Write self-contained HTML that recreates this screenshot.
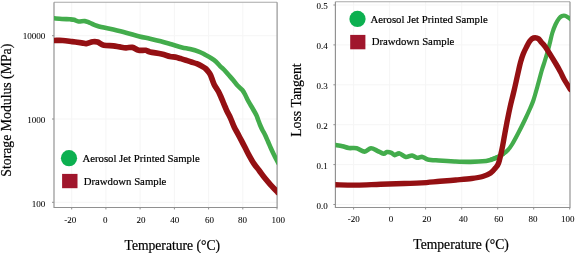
<!DOCTYPE html>
<html><head><meta charset="utf-8"><style>
html,body{margin:0;padding:0;background:#fff;width:575px;height:253px;overflow:hidden;}
svg{display:block;will-change:transform}
</style></head><body>
<svg width="575" height="253" viewBox="0 0 575 253" font-family='"Liberation Serif", serif'><style>text{stroke:#000;stroke-width:0.2px;fill:#000} text.t{stroke-width:0.05px}</style>
<rect width="575" height="253" fill="#fff"/>
<defs><clipPath id="cl"><rect x="54.0" y="2.2" width="223.1" height="205.2"/></clipPath><clipPath id="cr"><rect x="335.4" y="1.7" width="234.6" height="205.8"/></clipPath></defs>
<line x1="71.7" y1="2.2" x2="71.7" y2="207.45" stroke="#f5f5f5" stroke-width="1"/>
<line x1="105.9" y1="2.2" x2="105.9" y2="207.45" stroke="#f5f5f5" stroke-width="1"/>
<line x1="140.1" y1="2.2" x2="140.1" y2="207.45" stroke="#f5f5f5" stroke-width="1"/>
<line x1="174.4" y1="2.2" x2="174.4" y2="207.45" stroke="#f5f5f5" stroke-width="1"/>
<line x1="208.6" y1="2.2" x2="208.6" y2="207.45" stroke="#f5f5f5" stroke-width="1"/>
<line x1="242.8" y1="2.2" x2="242.8" y2="207.45" stroke="#f5f5f5" stroke-width="1"/>
<line x1="54.0" y1="202.3" x2="277.1" y2="202.3" stroke="#f5f5f5" stroke-width="1"/>
<line x1="54.0" y1="119.0" x2="277.1" y2="119.0" stroke="#f5f5f5" stroke-width="1"/>
<line x1="54.0" y1="35.7" x2="277.1" y2="35.7" stroke="#f5f5f5" stroke-width="1"/>
<line x1="71.7" y1="207.45" x2="71.7" y2="209.45" stroke="#909090" stroke-width="1"/>
<line x1="105.9" y1="207.45" x2="105.9" y2="209.45" stroke="#909090" stroke-width="1"/>
<line x1="140.1" y1="207.45" x2="140.1" y2="209.45" stroke="#909090" stroke-width="1"/>
<line x1="174.4" y1="207.45" x2="174.4" y2="209.45" stroke="#909090" stroke-width="1"/>
<line x1="208.6" y1="207.45" x2="208.6" y2="209.45" stroke="#909090" stroke-width="1"/>
<line x1="242.8" y1="207.45" x2="242.8" y2="209.45" stroke="#909090" stroke-width="1"/>
<line x1="277.0" y1="207.45" x2="277.0" y2="209.45" stroke="#909090" stroke-width="1"/>
<line x1="52.0" y1="202.3" x2="54.0" y2="202.3" stroke="#909090" stroke-width="1"/>
<line x1="52.0" y1="119.0" x2="54.0" y2="119.0" stroke="#909090" stroke-width="1"/>
<line x1="52.0" y1="35.7" x2="54.0" y2="35.7" stroke="#909090" stroke-width="1"/>
<path d="M54.0,2.2 H277.1" stroke="#a8a8a8" stroke-width="1.15" fill="none"/><path d="M54.0,2.2 V207.45 H277.1 V2.2" stroke="#909090" stroke-width="1.15" fill="none" stroke-linejoin="miter"/>
<g clip-path="url(#cl)" fill="none" stroke-width="4.6" stroke-linejoin="round" stroke-linecap="round">
<path d="M54.50,18.30 C55.75,18.42 59.42,18.83 62.00,19.00 C64.58,19.17 68.00,19.17 70.00,19.30 C72.00,19.43 72.58,19.43 74.00,19.80 C75.42,20.17 76.70,21.28 78.50,21.50 C80.30,21.72 82.88,20.87 84.80,21.10 C86.72,21.33 87.88,22.08 90.00,22.90 C92.12,23.72 93.62,24.88 97.50,26.00 C101.38,27.12 108.55,28.48 113.30,29.60 C118.05,30.72 121.63,31.57 126.00,32.70 C130.37,33.83 135.50,35.40 139.50,36.40 C143.50,37.40 146.47,37.88 150.00,38.70 C153.53,39.52 157.15,40.37 160.70,41.30 C164.25,42.23 167.75,43.28 171.30,44.30 C174.85,45.32 178.88,46.62 182.00,47.40 C185.12,48.18 187.22,48.30 190.00,49.00 C192.78,49.70 196.25,50.68 198.70,51.60 C201.15,52.52 202.60,53.40 204.70,54.50 C206.80,55.60 209.45,57.03 211.30,58.20 C213.15,59.37 214.30,60.15 215.80,61.50 C217.30,62.85 218.88,64.88 220.30,66.30 C221.72,67.72 222.93,68.58 224.30,70.00 C225.67,71.42 227.03,73.13 228.50,74.80 C229.97,76.47 231.60,78.22 233.10,80.00 C234.60,81.78 235.97,83.83 237.50,85.50 C239.03,87.17 241.00,88.42 242.30,90.00 C243.60,91.58 244.40,93.33 245.30,95.00 C246.20,96.67 246.82,98.33 247.70,100.00 C248.58,101.67 249.63,103.33 250.60,105.00 C251.57,106.67 252.55,108.33 253.50,110.00 C254.45,111.67 255.52,113.33 256.30,115.00 C257.08,116.67 257.57,118.33 258.20,120.00 C258.83,121.67 259.40,123.33 260.10,125.00 C260.80,126.67 261.57,128.33 262.40,130.00 C263.23,131.67 264.17,133.08 265.10,135.00 C266.03,136.92 267.05,139.33 268.00,141.50 C268.95,143.67 269.87,145.92 270.80,148.00 C271.73,150.08 272.65,152.03 273.60,154.00 C274.55,155.97 275.68,158.22 276.50,159.80 C277.32,161.38 278.17,162.88 278.50,163.50" stroke="#43ac4c"/>
<path d="M54.70,40.50 C56.03,40.50 59.78,40.32 62.70,40.50 C65.62,40.68 69.05,41.22 72.20,41.60 C75.35,41.98 79.23,42.47 81.60,42.80 C83.97,43.13 84.55,43.77 86.40,43.60 C88.25,43.43 90.85,42.07 92.70,41.80 C94.55,41.53 95.65,41.43 97.50,42.00 C99.35,42.57 101.17,44.57 103.80,45.20 C106.43,45.83 110.67,45.52 113.30,45.80 C115.93,46.08 117.48,46.57 119.60,46.90 C121.72,47.23 123.88,47.72 126.00,47.80 C128.12,47.88 130.20,46.98 132.30,47.40 C134.40,47.82 136.35,49.82 138.60,50.30 C140.85,50.78 143.90,50.02 145.80,50.30 C147.70,50.58 147.37,51.38 150.00,52.00 C152.63,52.62 158.27,53.25 161.60,54.00 C164.93,54.75 167.72,55.98 170.00,56.50 C172.28,57.02 173.52,56.75 175.30,57.10 C177.08,57.45 178.92,58.08 180.70,58.60 C182.48,59.12 184.23,59.63 186.00,60.20 C187.77,60.77 189.52,61.42 191.30,62.00 C193.08,62.58 195.00,63.03 196.70,63.70 C198.40,64.37 200.03,65.20 201.50,66.00 C202.97,66.80 204.32,67.50 205.50,68.50 C206.68,69.50 207.77,70.92 208.60,72.00 C209.43,73.08 209.87,73.67 210.50,75.00 C211.13,76.33 211.75,78.33 212.40,80.00 C213.05,81.67 213.70,83.58 214.40,85.00 C215.10,86.42 215.88,87.33 216.60,88.50 C217.32,89.67 217.97,90.58 218.70,92.00 C219.43,93.42 220.27,95.33 221.00,97.00 C221.73,98.67 222.40,100.33 223.10,102.00 C223.80,103.67 224.48,105.33 225.20,107.00 C225.92,108.67 226.53,110.20 227.40,112.00 C228.27,113.80 229.27,115.30 230.40,117.80 C231.53,120.30 232.95,124.32 234.20,127.00 C235.45,129.68 236.67,131.58 237.90,133.90 C239.13,136.22 240.38,138.58 241.60,140.90 C242.82,143.22 244.00,145.48 245.20,147.80 C246.40,150.12 247.32,152.12 248.80,154.80 C250.28,157.48 252.37,161.28 254.10,163.90 C255.83,166.52 257.45,168.18 259.20,170.50 C260.95,172.82 262.70,175.42 264.60,177.80 C266.50,180.18 268.40,182.35 270.60,184.80 C272.80,187.25 276.60,191.22 277.80,192.50" stroke="#941013" stroke-width="5.7"/>
</g>
<text x="45.4" y="206.90" font-size="9.1" class="t" text-anchor="end">100</text>
<text x="45.4" y="122.80" font-size="9.1" class="t" text-anchor="end">1000</text>
<text x="45.4" y="39.45" font-size="9.1" class="t" text-anchor="end">10000</text>
<text x="70.2" y="222.5" font-size="9" class="t" text-anchor="middle">-20</text>
<text x="105.3" y="222.5" font-size="9" class="t" text-anchor="middle">0</text>
<text x="140.9" y="222.5" font-size="9" class="t" text-anchor="middle">20</text>
<text x="174.7" y="222.5" font-size="9" class="t" text-anchor="middle">40</text>
<text x="209.5" y="222.5" font-size="9" class="t" text-anchor="middle">60</text>
<text x="242.6" y="222.5" font-size="9" class="t" text-anchor="middle">80</text>
<text x="278.2" y="222.5" font-size="9" class="t" text-anchor="middle">100</text>
<text x="172.3" y="249.9" font-size="13.6" text-anchor="middle">Temperature (°C)</text>
<text transform="translate(10.6,110.2) rotate(-90)" font-size="13.75" text-anchor="middle">Storage Modulus (MPa)</text>
<circle cx="69" cy="158.2" r="8.1" fill="#0cb050"/>
<rect x="62.1" y="173.9" width="15.4" height="14.3" fill="#a0162c"/>
<text x="82.4" y="162.2" font-size="10.75">Aerosol Jet Printed Sample</text>
<text x="83.7" y="184.8" font-size="10.75">Drawdown Sample</text>
<line x1="353.6" y1="1.7" x2="353.6" y2="207.5" stroke="#f5f5f5" stroke-width="1"/>
<line x1="389.6" y1="1.7" x2="389.6" y2="207.5" stroke="#f5f5f5" stroke-width="1"/>
<line x1="425.6" y1="1.7" x2="425.6" y2="207.5" stroke="#f5f5f5" stroke-width="1"/>
<line x1="461.7" y1="1.7" x2="461.7" y2="207.5" stroke="#f5f5f5" stroke-width="1"/>
<line x1="497.7" y1="1.7" x2="497.7" y2="207.5" stroke="#f5f5f5" stroke-width="1"/>
<line x1="533.7" y1="1.7" x2="533.7" y2="207.5" stroke="#f5f5f5" stroke-width="1"/>
<line x1="335.4" y1="204.5" x2="570.0" y2="204.5" stroke="#f5f5f5" stroke-width="1"/>
<line x1="335.4" y1="164.6" x2="570.0" y2="164.6" stroke="#f5f5f5" stroke-width="1"/>
<line x1="335.4" y1="124.7" x2="570.0" y2="124.7" stroke="#f5f5f5" stroke-width="1"/>
<line x1="335.4" y1="84.8" x2="570.0" y2="84.8" stroke="#f5f5f5" stroke-width="1"/>
<line x1="335.4" y1="44.9" x2="570.0" y2="44.9" stroke="#f5f5f5" stroke-width="1"/>
<line x1="335.4" y1="5.0" x2="570.0" y2="5.0" stroke="#f5f5f5" stroke-width="1"/>
<line x1="353.6" y1="207.5" x2="353.6" y2="209.5" stroke="#909090" stroke-width="1"/>
<line x1="389.6" y1="207.5" x2="389.6" y2="209.5" stroke="#909090" stroke-width="1"/>
<line x1="425.6" y1="207.5" x2="425.6" y2="209.5" stroke="#909090" stroke-width="1"/>
<line x1="461.7" y1="207.5" x2="461.7" y2="209.5" stroke="#909090" stroke-width="1"/>
<line x1="497.7" y1="207.5" x2="497.7" y2="209.5" stroke="#909090" stroke-width="1"/>
<line x1="533.7" y1="207.5" x2="533.7" y2="209.5" stroke="#909090" stroke-width="1"/>
<line x1="569.7" y1="207.5" x2="569.7" y2="209.5" stroke="#909090" stroke-width="1"/>
<line x1="333.4" y1="204.5" x2="335.4" y2="204.5" stroke="#909090" stroke-width="1"/>
<line x1="333.4" y1="164.6" x2="335.4" y2="164.6" stroke="#909090" stroke-width="1"/>
<line x1="333.4" y1="124.7" x2="335.4" y2="124.7" stroke="#909090" stroke-width="1"/>
<line x1="333.4" y1="84.8" x2="335.4" y2="84.8" stroke="#909090" stroke-width="1"/>
<line x1="333.4" y1="44.9" x2="335.4" y2="44.9" stroke="#909090" stroke-width="1"/>
<line x1="333.4" y1="5.0" x2="335.4" y2="5.0" stroke="#909090" stroke-width="1"/>
<path d="M335.4,1.7 H570.0" stroke="#a8a8a8" stroke-width="1.15" fill="none"/><path d="M335.4,1.7 V207.5 H570.0 V1.7" stroke="#909090" stroke-width="1.15" fill="none" stroke-linejoin="miter"/>
<g clip-path="url(#cr)" fill="none" stroke-width="4.6" stroke-linejoin="round" stroke-linecap="round">
<path d="M335.50,145.00 C336.67,145.20 340.28,145.70 342.50,146.20 C344.72,146.70 346.43,147.67 348.80,148.00 C351.17,148.33 354.07,147.60 356.70,148.20 C359.33,148.80 362.22,151.60 364.60,151.60 C366.98,151.60 368.88,148.33 371.00,148.20 C373.12,148.07 375.20,149.87 377.30,150.80 C379.40,151.73 382.02,153.58 383.60,153.80 C385.18,154.02 385.48,152.27 386.80,152.10 C388.12,151.93 390.18,152.30 391.50,152.80 C392.82,153.30 393.37,155.00 394.70,155.10 C396.03,155.20 397.65,153.10 399.50,153.40 C401.35,153.70 403.70,156.55 405.80,156.90 C407.90,157.25 410.25,155.35 412.10,155.50 C413.95,155.65 415.18,157.57 416.90,157.80 C418.62,158.03 420.60,156.63 422.40,156.90 C424.20,157.17 424.98,158.80 427.70,159.40 C430.42,160.00 434.22,160.15 438.70,160.50 C443.18,160.85 449.32,161.27 454.60,161.50 C459.88,161.73 465.13,161.98 470.40,161.90 C475.67,161.82 482.77,161.37 486.20,161.00 C489.63,160.63 489.20,160.30 491.00,159.70 C492.80,159.10 495.00,158.35 497.00,157.40 C499.00,156.45 502.00,154.57 503.00,154.00" stroke="#43ac4c"/>
<path d="M491.00,159.70 C492.00,159.32 495.00,158.35 497.00,157.40 C499.00,156.45 501.22,155.18 503.00,154.00 C504.78,152.82 506.20,151.88 507.70,150.30 C509.20,148.72 510.23,147.38 512.00,144.50 C513.77,141.62 516.17,137.08 518.30,133.00 C520.43,128.92 522.80,124.17 524.80,120.00 C526.80,115.83 528.85,111.33 530.30,108.00 C531.75,104.67 532.33,103.50 533.50,100.00 C534.67,96.50 535.90,92.00 537.30,87.00 C538.70,82.00 540.70,74.17 541.90,70.00 C543.10,65.83 543.57,65.00 544.50,62.00 C545.43,59.00 546.65,55.00 547.50,52.00 C548.35,49.00 548.80,47.17 549.60,44.00 C550.40,40.83 551.32,36.25 552.30,33.00 C553.28,29.75 554.38,26.92 555.50,24.50 C556.62,22.08 557.92,19.92 559.00,18.50 C560.08,17.08 561.00,16.47 562.00,16.00 C563.00,15.53 564.00,15.48 565.00,15.70 C566.00,15.92 567.00,16.67 568.00,17.30 C569.00,17.93 570.50,19.13 571.00,19.50" stroke="#43ac4c" stroke-width="4.2"/>
<path d="M335.50,184.80 C339.03,184.85 349.20,185.20 356.70,185.10 C364.20,185.00 372.58,184.47 380.50,184.20 C388.42,183.93 397.35,183.72 404.20,183.50 C411.05,183.28 415.63,183.27 421.60,182.90 C427.57,182.53 434.30,181.78 440.00,181.30 C445.70,180.82 450.53,180.47 455.80,180.00 C461.07,179.53 467.12,179.08 471.60,178.50 C476.08,177.92 479.53,177.42 482.70,176.50 C485.87,175.58 488.48,174.42 490.60,173.00 C492.72,171.58 494.07,169.67 495.40,168.00 C496.73,166.33 497.53,166.00 498.60,163.00 C499.67,160.00 500.80,154.67 501.80,150.00 C502.80,145.33 503.67,140.00 504.60,135.00 C505.53,130.00 506.48,124.67 507.40,120.00 C508.32,115.33 509.17,111.17 510.10,107.00 C511.03,102.83 512.20,98.33 513.00,95.00 C513.80,91.67 514.27,89.75 514.90,87.00 C515.53,84.25 516.17,81.33 516.80,78.50 C517.43,75.67 518.07,72.75 518.70,70.00 C519.33,67.25 519.85,64.67 520.60,62.00 C521.35,59.33 522.22,56.50 523.20,54.00 C524.18,51.50 525.45,49.07 526.50,47.00 C527.55,44.93 528.58,42.98 529.50,41.60 C530.42,40.22 531.05,39.35 532.00,38.70 C532.95,38.05 534.12,37.70 535.20,37.70 C536.28,37.70 537.48,37.95 538.50,38.70 C539.52,39.45 540.15,40.82 541.30,42.20 C542.45,43.58 542.95,43.37 545.40,47.00 C547.85,50.63 553.48,59.83 556.00,64.00 C558.52,68.17 559.08,69.33 560.50,72.00 C561.92,74.67 562.83,77.08 564.50,80.00 C566.17,82.92 569.50,87.92 570.50,89.50" stroke="#941013" stroke-width="5.4"/>
</g>
<text x="327.7" y="209.35" font-size="9" class="t" text-anchor="end">0.0</text>
<text x="327.7" y="169.20" font-size="9" class="t" text-anchor="end">0.1</text>
<text x="327.7" y="129.05" font-size="9" class="t" text-anchor="end">0.2</text>
<text x="327.7" y="88.90" font-size="9" class="t" text-anchor="end">0.3</text>
<text x="327.7" y="48.75" font-size="9" class="t" text-anchor="end">0.4</text>
<text x="327.7" y="8.60" font-size="9" class="t" text-anchor="end">0.5</text>
<text x="353.8" y="221.7" font-size="9" class="t" text-anchor="middle">-20</text>
<text x="391.0" y="221.7" font-size="9" class="t" text-anchor="middle">0</text>
<text x="426.8" y="221.7" font-size="9" class="t" text-anchor="middle">20</text>
<text x="463.2" y="221.7" font-size="9" class="t" text-anchor="middle">40</text>
<text x="498.8" y="221.7" font-size="9" class="t" text-anchor="middle">60</text>
<text x="533.1" y="221.7" font-size="9" class="t" text-anchor="middle">80</text>
<text x="567.7" y="221.7" font-size="9" class="t" text-anchor="middle">100</text>
<text x="461.1" y="249.0" font-size="13.6" text-anchor="middle">Temperature (°C)</text>
<text transform="translate(301.1,100.1) rotate(-90)" font-size="13.8" text-anchor="middle">Loss Tangent</text>
<circle cx="357.5" cy="18.9" r="8.1" fill="#0cb050"/>
<rect x="350.2" y="34.9" width="15.2" height="14.4" fill="#a0162c"/>
<text x="370.4" y="23.3" font-size="10.75">Aerosol Jet Printed Sample</text>
<text x="371.7" y="45.2" font-size="10.75">Drawdown Sample</text>
</svg>
</body></html>
